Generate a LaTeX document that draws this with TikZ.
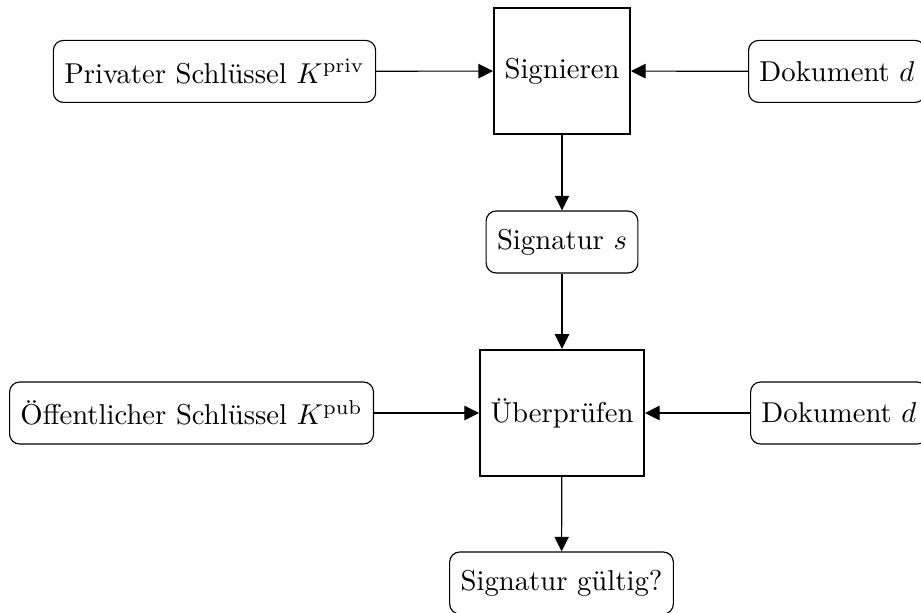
\documentclass[tikz,border=0pt]{standalone}
\usetikzlibrary{arrows.meta}
\begin{document}
\begin{tikzpicture}[x=0.3484pt,y=-0.3484pt,
  procbox/.style={draw,line width=0.8pt,rectangle,minimum height=43.9pt,inner xsep=3.6pt},
  databox/.style={draw,line width=0.4pt,rectangle,rounded corners=3.5pt,minimum height=21.6pt,inner xsep=3.8pt},
  conn/.style={line width=0.4pt,-{Triangle[length=5.1pt,width=5pt]}}]
\useasboundingbox (0,0) rectangle (921,612);
\node[procbox] (sig) at (562,71) {Signieren};
\node[databox] (priv) at (214.5,71.4) {Privater Schlüssel $K^{\mathrm{priv}}$};
\node[databox,anchor=west] (dok1) at (748,71.4) {Dokument $d$};
\node[databox] (sigs) at (562,242) {Signatur $s$};
\node[procbox] (ver) at (562,413) {Überprüfen};
\node[databox,anchor=west] (pub) at (9,413) {Öffentlicher Schlüssel $K^{\mathrm{pub}}$};
\node[databox,anchor=west] (dok2) at (750,413) {Dokument $d$};
\node[databox] (valid) at (561.5,583) {Signatur gültig?};
\draw[conn] (priv) -- (sig);
\draw[conn] (dok1) -- (sig);
\draw[conn] (sig) -- (sigs);
\draw[conn] (sigs) -- (ver);
\draw[conn] (pub) -- (ver);
\draw[conn] (dok2) -- (ver);
\draw[conn] (ver) -- (valid);
\end{tikzpicture}
\end{document}
